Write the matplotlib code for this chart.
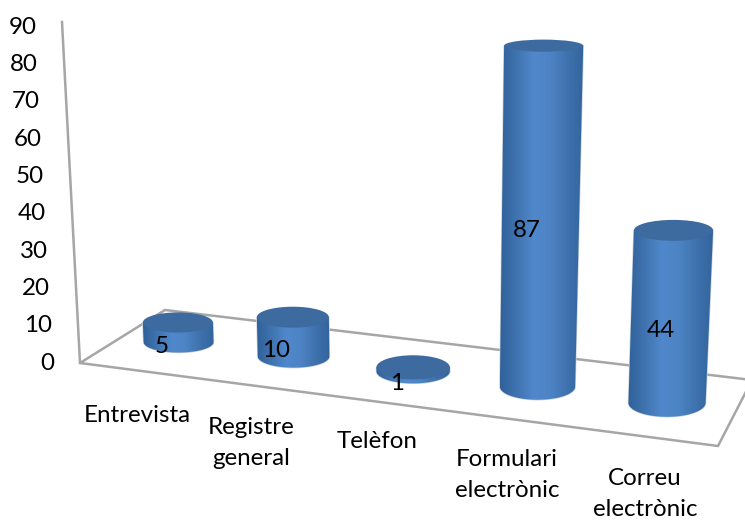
import matplotlib
matplotlib.use("Agg")
import matplotlib.pyplot as plt
import numpy as np
from matplotlib.colors import LinearSegmentedColormap
from matplotlib.patches import Ellipse, PathPatch, Polygon
from matplotlib.path import Path

plt.rcParams['font.family'] = ['Lato', 'DejaVu Sans']

# dades
categories = ["Entrevista", "Registre\ngeneral", "Telèfon", "Formulari\nelectrònic", "Correu\nelectrònic"]
values = [5, 10, 1, 87, 44]
yticks = [0, 10, 20, 30, 40, 50, 60, 70, 80, 90]

# layout (pixels of the picture)
W, H = 745, 522
floor_fl, floor_bl, floor_br, floor_fr = (80, 363), (165, 310), (752, 380), (718, 446)
axis_top = (62, 22)
tick_unit = 3.73      # px per unit on the value axis
bar_unit = 3.92       # px per unit on the bars
lean = 0.00059        # perspective spread with height
vanish_x = 418
depth = 0.50
cat_xy = [(137, 415), (251, 443), (377, 441), (507, 475), (645, 494)]
label_dx = [-17, -18, -16, -11, -6]
FS = 17.4

GREY = "#a6a6a6"
TOP = "#3d6a9f"
shade = LinearSegmentedColormap.from_list(
    "cyl", ["#30619a", "#4074b0", "#5088cb", "#4d84c5", "#3f72ae", "#33649c"])


def floor_point(s, t):
    # homography of the unit square onto the floor quad
    src = [(0, 0), (0, 1), (1, 1), (1, 0)]
    dst = [floor_fl, floor_bl, floor_br, floor_fr]
    A, b = [], []
    for (u, v), (x, y) in zip(src, dst):
        A.append([u, v, 1, 0, 0, 0, -u * x, -v * x])
        A.append([0, 0, 0, u, v, 1, -u * y, -v * y])
        b += [x, y]
    h = np.linalg.solve(np.array(A, float), np.array(b, float))
    w = h[6] * s + h[7] * t + 1
    return (h[0] * s + h[1] * t + h[2]) / w, (h[3] * s + h[4] * t + h[5]) / w


fig = plt.figure(figsize=(W / 100, H / 100), dpi=100)
ax = fig.add_axes([0, 0, 1, 1])

# floor and value axis
ax.add_patch(Polygon([floor_fl, floor_bl, floor_br, floor_fr], closed=True, fill=False,
                     edgecolor=GREY, lw=1.8, zorder=1))
ax.plot([floor_fl[0], axis_top[0]], [floor_fl[1], axis_top[1]], color=GREY, lw=1.8, zorder=1)

for v in yticks:
    # labels follow the lean of the axis
    y = floor_fl[1] - v * tick_unit
    x = floor_fl[0] + (axis_top[0] - floor_fl[0]) * (floor_fl[1] - y) / (floor_fl[1] - axis_top[1])
    ax.text(x - 26, y, str(v), ha="right", va="center", fontsize=FS, color="black")

n = len(values)
for i, (cat, val) in enumerate(zip(categories, values)):
    cx, cy = floor_point((i + 0.5) / n - 0.003, depth)
    rx = 35 + 0.06 * (cy - 343)
    ry = 10.5 + 0.058 * (cy - 343)

    grow = 1 + lean * val
    tx = vanish_x + (cx - vanish_x) * grow
    ty = cy - val * bar_unit
    trx = rx * grow
    tr_y = max(ry - 0.08 * val, 3)

    z = 3 + i
    ang = np.linspace(np.pi, 0, 40)
    arc = np.c_[cx + rx * np.cos(ang), cy + ry * np.sin(ang)]
    pts = np.vstack([[tx - trx, ty], arc, [tx + trx, ty], [tx - trx, ty]])
    body = Path(pts)
    edge = PathPatch(body, facecolor="none", edgecolor="#c9d3df", lw=1.0, zorder=z)
    ax.add_patch(edge)

    left = min(cx - rx, tx - trx)
    right = max(cx + rx, tx + trx)
    im = ax.imshow(np.linspace(0, 1, 128).reshape(1, -1), cmap=shade, aspect="auto",
                   extent=(left, right, cy + ry + 1, ty - 1), zorder=z, interpolation="bilinear")
    clip = PathPatch(body, transform=ax.transData, facecolor="none", edgecolor="none")
    ax.add_patch(clip)
    im.set_clip_path(clip)

    ax.add_patch(Ellipse((tx, ty), 2 * trx, 2 * tr_y, facecolor=TOP, edgecolor="none", zorder=z))

    ax.text(cx + label_dx[i], (ty + cy) / 2 + 14, str(val), ha="center", va="center",
            fontsize=FS, color="black", zorder=20)
    ax.text(cat_xy[i][0], cat_xy[i][1], cat, ha="center", va="center", fontsize=FS,
            color="black", linespacing=1.55, zorder=20)

ax.set_xlim(0, W)
ax.set_ylim(H, 0)
ax.axis("off")

fig.savefig("out.png", dpi=100)
